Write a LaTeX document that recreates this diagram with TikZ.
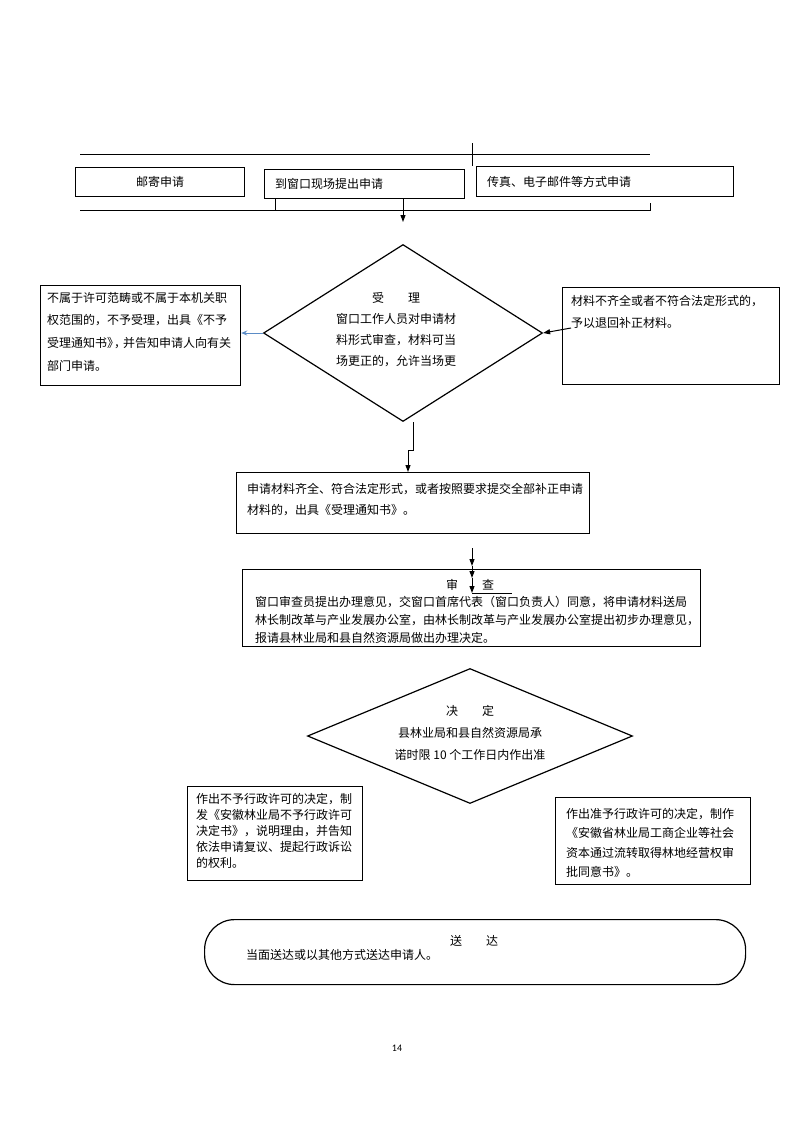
\documentclass[tikz,border=0pt]{standalone}
\usepackage{fontspec}
\setmainfont{Noto Sans CJK SC}
\newfontfamily\pagefont{Carlito}
\usetikzlibrary{arrows.meta,shapes.geometric,positioning}

\tikzset{
  frame/.style={draw, line width=1.2pt, inner sep=0pt, anchor=north west},
  txt/.style={inner sep=0pt, anchor=north west, align=left, font=\fontsize{12}{#1}\selectfont},
  txt/.default=21,
  ctxt/.style={inner sep=0pt, anchor=north, align=center, font=\fontsize{12}{#1}\selectfont},
  ctxt/.default=21,
  arrow/.style={line width=1pt, -{Triangle[length=7pt,width=5pt]}},
  thin line/.style={line width=1pt}
}

\begin{document}
\begin{tikzpicture}[x=1pt,y=-1pt]
    \useasboundingbox (0,0) rectangle (793,1122);

    % Top row of application ways
    \node[frame, minimum width=169pt, minimum height=29pt] (mail) at (75,167) {};
    \node[frame, minimum width=200pt, minimum height=29pt] (window) at (264,169) {};
    \node[frame, minimum width=257pt, minimum height=30pt] (fax) at (476,166) {};
    \node[ctxt, anchor=center] (mailtext) at (mail.center) {邮寄申请};
    \node[txt, anchor=west] (windowtext) at (275,184) {到窗口现场提出申请};
    \node[txt, anchor=west] (faxtext) at (487,182) {传真、电子邮件等方式申请};

    % Brackets round the row
    \draw[thin line] (80,154) -- (650,154);
    \draw[thin line] (472,143) -- (472,166);
    \coordinate (bendL) at (275,210);
    \coordinate (bendR) at (650,210);
    \draw[thin line] (window.south west -| bendL) -- (bendL);
    \draw[thin line] (80,210) -- (bendR) -- ++(0,-7);
    \coordinate (drop) at (403,222);
    \draw[arrow] (window.south -| drop) -- (drop);

    % Acceptance
    \node[draw, diamond, line width=1.2pt, inner sep=0pt, minimum width=279pt, minimum height=177pt] (accept) at (403,333) {};
    \node[ctxt] (accepttext) at (396,292) {受　　理\\窗口工作人员对申请材\\料形式审查，材料可当\\场更正的，允许当场更};

    \node[frame, minimum width=200pt, minimum height=100pt] (reject) at (40,285) {};
    \node[txt=22.6] (rejecttext) at (47,292) {不属于许可范畴或不属于本机关职\\权范围的，不予受理，出具《不予\\受理通知书》\kern-5pt，\kern-3pt 并告知申请人向有关\\部门申请。};
    \draw[line width=1pt, color={rgb,255:red,91;green,140;blue,198}, -{Stealth[length=6pt,width=5pt]}] (accept.west) -- (reject.east |- accept.west);

    \node[frame, minimum width=217pt, minimum height=97pt] (supplement) at (562,287) {};
    \node[txt=22] (supplementtext) at (571,295) {材料不齐全或者不符合法定形式的，\\予以退回补正材料。};
    \draw[arrow] (571,328) -- (accept.east);

    % Notice of acceptance
    \node[frame, minimum width=353pt, minimum height=61pt] (notice) at (236,472) {};
    \node[txt=21] (noticetext) at (247,483) {申请材料齐全、符合法定形式，或者按照要求提交全部补正申请\\材料的，出具《受理通知书》。};
    \draw[arrow] (accept.south -| 413,0) |- (408,450) -- (notice.north -| 408,0);

    % Review
    \node[frame, minimum width=458pt, minimum height=77pt] (review) at (242,569) {};
    \node[ctxt, anchor=center] (reviewtitle) at (470,585) {审　　查};
    \node[txt=18] (reviewtext) at (255,596) {窗口审查员提出办理意见，交窗口首席代表（窗口负责人）同意，将申请材料送局\\林长制改革与产业发展办公室，由林长制改革与产业发展办公室提出初步办理意见，\\报请县林业局和县自然资源局做出办理决定。};
    \coordinate (stem) at (472,548);
    \coordinate (stemend) at (472,593);
    \draw[arrow] (stem) -- (472,566);
    \draw[arrow] (472,566) -- (472,578);
    \draw[arrow] (472,578) -- (stemend);
    \draw[thin line] (stemend) -- ++(40,0);

    % Decision
    \node[draw, diamond, line width=1.2pt, inner sep=0pt, minimum width=325pt, minimum height=135pt] (decide) at (470,736) {};
    \node[ctxt=22] (decidetext) at (470,705) {决　　定\\县林业局和县自然资源局承\\诺时限 10 个工作日内作出准};

    \node[frame, minimum width=175pt, minimum height=94pt] (deny) at (187,786) {};
    \node[txt=16] (denytext) at (196,793) {作出不予行政许可的决定，制\\发《安徽林业局不予行政许可\\决定书》，说明理由，并告知\\依法申请复议、提起行政诉讼\\的权利。};

    \node[frame, minimum width=195pt, minimum height=87pt] (grant) at (555,797) {};
    \node[txt=19.5] (granttext) at (566,808) {作出准予行政许可的决定，制作\\《安徽省林业局工商企业等社会\\资本通过流转取得林地经营权审\\批同意书》。};

    % Delivery
    \node[draw, line width=1.2pt, rounded corners=30pt, inner sep=0pt, minimum width=541pt, minimum height=65pt, anchor=north west] (deliver) at (204,919) {};
    \node[ctxt, anchor=center] (delivertitle) at (474,941) {送　　达};
    \node[txt, anchor=west] (delivertext) at (246,955) {当面送达或以其他方式送达申请人。};

    % Page number
    \node[font=\pagefont\fontsize{10}{12}\selectfont] (pagenum) at (397,1048) {14};
\end{tikzpicture}
\end{document}
